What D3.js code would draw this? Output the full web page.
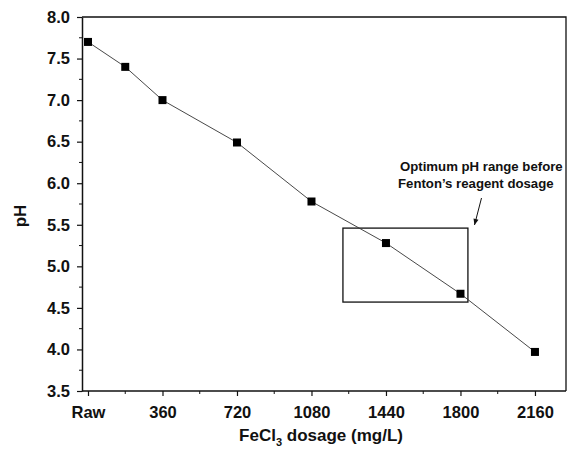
<!DOCTYPE html>
<html>
<head>
<meta charset="utf-8">
<script src="https://cdn.jsdelivr.net/npm/d3@7"></script>
<style>
  html, body { margin: 0; padding: 0; background: #fff; }
  svg { display: block; font-family: "Liberation Sans", Arial, sans-serif; }
</style>
</head>
<body>
<svg id="chart" width="574" height="460"></svg>
<script>
// FeCl3 dosage (mg/L) and measured pH
const dosage = [0, 180, 360, 720, 1080, 1440, 1800, 2160];
const pH = [7.7, 7.4, 7.0, 6.49, 5.78, 5.28, 4.67, 3.97];

const xTickValues = [0, 360, 720, 1080, 1440, 1800, 2160];
const xTickLabels = ["Raw", "360", "720", "1080", "1440", "1800", "2160"];
const xMinorValues = [180, 540, 900, 1260, 1620, 1980];
const yTickValues = [3.5, 4.0, 4.5, 5.0, 5.5, 6.0, 6.5, 7.0, 7.5, 8.0];
const yMinorValues = [3.75, 4.25, 4.75, 5.25, 5.75, 6.25, 6.75, 7.25, 7.75];

// Optimum pH window: dosage span and pH span
const boxDosage = [1232, 1836];
const boxPH = [4.57, 5.46];
const noteLines = ["Optimum pH range before", "Fenton\u2019s reagent dosage"];

const svg = d3.select("#chart");
const plot = { left: 82, right: 566, top: 17, bottom: 391 };

const x = d3.scaleLinear().domain([-29, 2310]).range([plot.left, plot.right]);
const y = d3.scaleLinear().domain([3.5, 8.0]).range([plot.bottom, plot.top]);

const ink = "#111";
const labelSize = "16.5px";

// frame (top and right edges)
svg.append("path")
  .attr("d", `M${plot.left},${plot.top}H${plot.right}V${plot.bottom}`)
  .attr("fill", "none").attr("stroke", ink).attr("stroke-width", 1.3);

// x axis
const xAxis = svg.append("g").attr("transform", `translate(0,${plot.bottom})`)
  .call(d3.axisBottom(x).tickValues(xTickValues)
    .tickFormat((d, i) => xTickLabels[i]).tickSize(5).tickPadding(10).tickSizeOuter(0));
xAxis.append("g").selectAll("line").data(xMinorValues).join("line")
  .attr("x1", d => x(d)).attr("x2", d => x(d)).attr("y1", 0).attr("y2", 3)
  .attr("stroke", ink);
xAxis.select(".domain").attr("d", `M${plot.left},0H${plot.right}`);

// y axis
const yAxis = svg.append("g").attr("transform", `translate(${plot.left},0)`)
  .call(d3.axisLeft(y).tickValues(yTickValues).tickFormat(d3.format(".1f"))
    .tickSize(5).tickPadding(7).tickSizeOuter(0));
yAxis.append("g").selectAll("line").data(yMinorValues).join("line")
  .attr("x1", 0).attr("x2", -3).attr("y1", d => y(d)).attr("y2", d => y(d))
  .attr("stroke", ink);

[xAxis, yAxis].forEach(g => {
  g.select(".domain").attr("stroke", ink).attr("stroke-width", 1.5);
  g.selectAll(".tick line").attr("stroke", ink).attr("stroke-width", 1.2);
  g.selectAll(".tick text")
    .attr("fill", ink)
    .style("font-family", "'Liberation Sans', Arial, sans-serif")
    .style("font-size", labelSize)
    .style("font-weight", "bold");
});

// axis titles
const xTitle = svg.append("text")
  .attr("x", 321).attr("y", 441)
  .attr("text-anchor", "middle")
  .attr("fill", ink)
  .style("font-size", "17px").style("font-weight", "bold");
xTitle.append("tspan").text("FeCl");
xTitle.append("tspan").text("3").attr("dy", 5).style("font-size", "11px");
xTitle.append("tspan").text(" dosage (mg/L)").attr("dy", -5);

svg.append("text")
  .attr("transform", "translate(26,216) rotate(-90)")
  .attr("text-anchor", "middle")
  .attr("fill", ink)
  .style("font-size", "17px").style("font-weight", "bold")
  .text("pH");

// optimum window
svg.append("rect")
  .attr("x", x(boxDosage[0])).attr("y", y(boxPH[1]))
  .attr("width", x(boxDosage[1]) - x(boxDosage[0]))
  .attr("height", y(boxPH[0]) - y(boxPH[1]))
  .attr("fill", "none").attr("stroke", ink).attr("stroke-width", 1.3);

// data line and markers
const line = d3.line().x((d, i) => x(dosage[i])).y(d => y(d));
svg.append("path")
  .datum(pH)
  .attr("d", line)
  .attr("fill", "none").attr("stroke", "#333").attr("stroke-width", 0.9);

const ms = 8;
svg.append("g").selectAll("rect").data(pH).join("rect")
  .attr("x", (d, i) => x(dosage[i]) - ms / 2)
  .attr("y", d => y(d) - ms / 2)
  .attr("width", ms).attr("height", ms)
  .attr("fill", "#000");

// annotation
svg.append("text")
  .attr("x", 399).attr("y", 171)
  .attr("fill", ink)
  .style("font-size", "13.2px").style("font-weight", "bold")
  .selectAll("tspan").data(noteLines).join("tspan")
  .attr("x", (d, i) => i === 0 ? 400 : 398)
  .attr("dy", (d, i) => i === 0 ? 0 : 17)
  .text(d => d);

const ax0 = 481.5, ay0 = 198, ax1 = 474.5, ay1 = 225;
svg.append("line")
  .attr("x1", ax0).attr("y1", ay0).attr("x2", ax1).attr("y2", ay1)
  .attr("stroke", ink).attr("stroke-width", 1);
// arrowhead
const ang = Math.atan2(ay1 - ay0, ax1 - ax0);
const hl = 6, hw = 2.6;
const bx = ax1 - hl * Math.cos(ang), by = ay1 - hl * Math.sin(ang);
svg.append("path")
  .attr("d", `M${ax1},${ay1}L${bx + hw * Math.sin(ang)},${by - hw * Math.cos(ang)}L${bx - hw * Math.sin(ang)},${by + hw * Math.cos(ang)}Z`)
  .attr("fill", ink);
</script>
</body>
</html>
